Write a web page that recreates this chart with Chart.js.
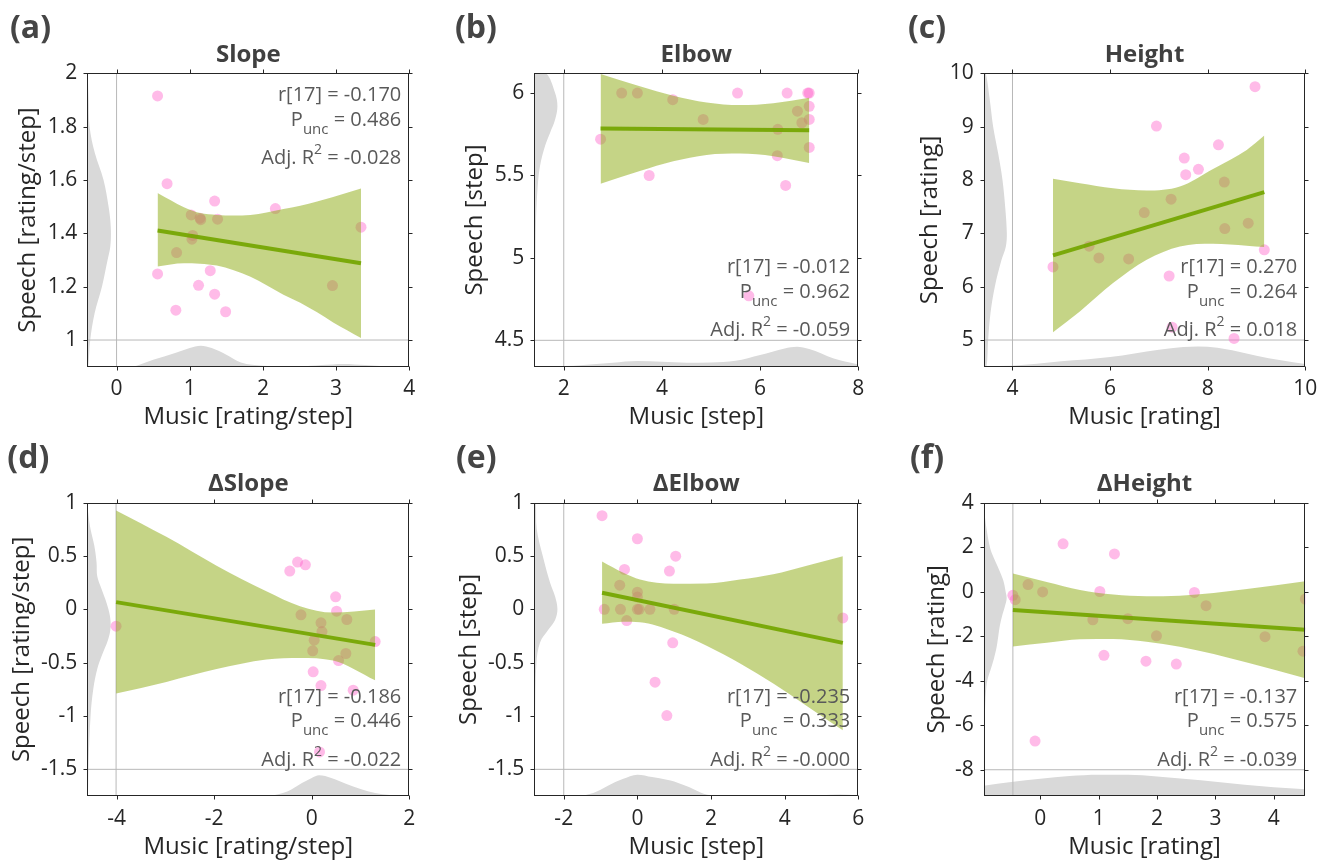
<!DOCTYPE html>
<html>
<head>
<meta charset="utf-8">
<title>Music vs speech</title>
<script src="https://cdn.jsdelivr.net/npm/chart.js@4.4.1/dist/chart.umd.min.js"></script>
<style>
  html, body { margin: 0; padding: 0; background: #fff; }
  #figure { position: relative; width: 1335px; height: 867px; }
  #figure canvas { position: absolute; left: 0; top: 0; }
</style>
</head>
<body>
<div id="figure"></div>
<script>
const W = 1335, H = 867;
const FONT = '"Open Sans", "Noto Sans", sans-serif';

// (a) Slope
const slopeMusic  = [0.56, 0.69, 1.34, 1.02, 1.14, 1.15, 1.38, 2.17, 1.04, 1.03, 0.82, 3.34, 0.56, 1.28, 1.12, 1.34, 0.81, 1.49, 2.95];
const slopeSpeech = [1.915, 1.586, 1.521, 1.469, 1.457, 1.451, 1.453, 1.493, 1.392, 1.378, 1.328, 1.423, 1.248, 1.260, 1.205, 1.172, 1.112, 1.106, 1.204];
const slopeFitX = [0.56, 3.34];
const slopeFitY = [1.411, 1.288];
const slopeBandX  = [0.56, 0.92, 1.14, 1.37, 1.60, 1.83, 2.05, 2.28, 2.51, 2.74, 2.96, 3.34];
const slopeBandHi = [1.551, 1.498, 1.476, 1.469, 1.467, 1.469, 1.478, 1.491, 1.503, 1.519, 1.536, 1.568];
const slopeBandLo = [1.276, 1.288, 1.286, 1.279, 1.262, 1.237, 1.205, 1.170, 1.140, 1.104, 1.066, 1.008];
const slopeSideAt = [2.0, 1.9, 1.8, 1.7, 1.6, 1.5, 1.45, 1.4, 1.35, 1.3, 1.2, 1.1, 1.0, 0.9];
const slopeSide   = [-0.396, -0.382, -0.369, -0.296, -0.178, -0.109, -0.086, -0.077, -0.086, -0.123, -0.200, -0.300, -0.360, -0.387];
const slopeFootAt = [-0.4, 0.2, 0.5, 0.8, 1.0, 1.15, 1.3, 1.5, 1.7, 2.0, 2.5, 2.8, 3.1, 3.4, 3.7, 4.0];
const slopeFoot   = [0.900, 0.901, 0.926, 0.951, 0.970, 0.979, 0.970, 0.945, 0.916, 0.904, 0.901, 0.906, 0.910, 0.906, 0.901, 0.900];
const slopeXRange = [-0.4, 4];
const slopeYRange = [0.9, 2];
const slopeRef = [0, 1];
const slopeXTicks = [0, 1, 2, 3, 4];
const slopeYTicks = [1, 1.2, 1.4, 1.6, 1.8, 2];
const slopeStats = ['-0.170', '0.486', '-0.028'];

// (b) Elbow
const elbowMusic  = [2.75, 3.18, 3.50, 4.22, 3.74, 4.84, 5.54, 6.55, 6.97, 7.00, 7.00, 6.76, 7.00, 6.85, 6.36, 7.00, 6.35, 6.52, 5.77];
const elbowSpeech = [5.72, 6.00, 6.00, 5.96, 5.50, 5.84, 6.00, 6.00, 6.00, 6.00, 5.92, 5.89, 5.84, 5.82, 5.78, 5.67, 5.62, 5.44, 4.77];
const elbowFitX = [2.75, 7.00];
const elbowFitY = [5.785, 5.775];
const elbowBandX  = [2.75, 3.55, 4.23, 4.91, 5.59, 6.27, 7.00];
const elbowBandHi = [6.116, 6.041, 5.984, 5.943, 5.927, 5.939, 5.972];
const elbowBandLo = [5.450, 5.527, 5.586, 5.625, 5.633, 5.617, 5.576];
const elbowSideAt = [6.12, 6.0, 5.92, 5.84, 5.76, 5.68, 5.56, 5.44, 5.25, 4.99, 4.75, 4.34];
const elbowSide   = [1.640, 1.824, 1.871, 1.824, 1.722, 1.620, 1.518, 1.471, 1.437, 1.423, 1.416, 1.409];
const elbowFootAt = [1.4, 2.2, 3.0, 3.5, 4.0, 4.5, 5.0, 5.5, 6.0, 6.5, 6.75, 7.0, 7.5, 8.0];
const elbowFoot   = [4.340, 4.346, 4.364, 4.374, 4.370, 4.364, 4.366, 4.376, 4.411, 4.451, 4.461, 4.447, 4.390, 4.354];
const elbowXRange = [1.4, 8];
const elbowYRange = [4.34, 6.12];
const elbowRef = [2, 4.5];
const elbowXTicks = [2, 4, 6, 8];
const elbowYTicks = [4.5, 5, 5.5, 6];
const elbowStats = ['-0.012', '0.962', '-0.059'];

// (c) Height
const heightMusic  = [8.97, 6.95, 8.22, 7.52, 7.55, 7.81, 8.34, 7.25, 6.70, 8.35, 8.83, 9.16, 5.57, 5.77, 6.38, 4.83, 7.21, 7.27, 8.54];
const heightSpeech = [9.75, 9.01, 8.66, 8.41, 8.10, 8.20, 7.96, 7.64, 7.39, 7.09, 7.19, 6.69, 6.76, 6.54, 6.52, 6.37, 6.20, 5.24, 5.03];
const heightFitX = [4.83, 9.16];
const heightFitY = [6.586, 7.771];
const heightBandX  = [4.83, 5.38, 6.06, 6.75, 7.43, 8.11, 8.80, 9.16];
const heightBandHi = [8.021, 7.940, 7.846, 7.803, 7.878, 8.208, 8.564, 8.833];
const heightBandLo = [5.144, 5.537, 6.067, 6.504, 6.754, 6.804, 6.767, 6.742];
const heightSideAt = [10, 9.5, 9, 8.5, 8, 7.5, 7, 6.75, 6.5, 6, 5.5, 5, 4.5];
const heightSide   = [3.453, 3.535, 3.604, 3.706, 3.795, 3.850, 3.884, 3.863, 3.774, 3.638, 3.549, 3.501, 3.467];
const heightFootAt = [3.41, 4, 5, 6, 7, 7.5, 7.8, 8.2, 8.5, 9, 9.5, 10];
const heightFoot   = [4.510, 4.519, 4.600, 4.682, 4.819, 4.869, 4.881, 4.856, 4.807, 4.707, 4.619, 4.550];
const heightXRange = [3.41, 10];
const heightYRange = [4.5, 10];
const heightRef = [4, 5];
const heightXTicks = [4, 6, 8, 10];
const heightYTicks = [5, 6, 7, 8, 9, 10];
const heightStats = ['0.270', '0.264', '0.018'];

// (d) ΔSlope
const dSlopeMusic  = [-4.01, -0.45, -0.29, -0.13, 0.49, 0.51, -0.22, 0.19, 0.72, 0.21, 0.05, 1.30, 0.02, 0.70, 0.55, 0.03, 0.19, 0.85, 0.16];
const dSlopeSpeech = [-0.158, 0.359, 0.443, 0.418, 0.118, -0.017, -0.051, -0.126, -0.095, -0.208, -0.289, -0.302, -0.389, -0.414, -0.480, -0.586, -0.715, -0.758, -1.337];
const dSlopeFitX = [-4.01, 1.30];
const dSlopeFitY = [0.068, -0.333];
const dSlopeBandX  = [-4.01, -2.98, -1.95, -0.93, -0.24, 0.44, 1.30];
const dSlopeBandHi = [0.928, 0.680, 0.410, 0.170, 0.030, -0.030, -0.001];
const dSlopeBandLo = [-0.790, -0.680, -0.560, -0.470, -0.455, -0.480, -0.665];
const dSlopeSideAt = [1, 0.9, 0.75, 0.6, 0.44, 0.31, 0.19, 0.06, -0.06, -0.17, -0.28, -0.44, -0.56, -0.75, -1.0, -1.44, -1.75];
const dSlopeSide   = [-4.600, -4.581, -4.533, -4.458, -4.410, -4.396, -4.308, -4.205, -4.137, -4.123, -4.171, -4.308, -4.396, -4.478, -4.533, -4.574, -4.588];
const dSlopeFootAt = [-4.6, -1.0, -0.87, -0.5, -0.2, 0, 0.15, 0.4, 0.7, 1.0, 1.3, 1.6, 2.0];
const dSlopeFoot   = [-1.750, -1.749, -1.747, -1.707, -1.628, -1.581, -1.556, -1.581, -1.635, -1.685, -1.722, -1.741, -1.748];
const dSlopeXRange = [-4.6, 2];
const dSlopeYRange = [-1.75, 1];
const dSlopeRef = [-4.01, -1.5];
const dSlopeXTicks = [-4, -2, 0, 2];
const dSlopeYTicks = [-1.5, -1, -0.5, 0, 0.5, 1];
const dSlopeStats = ['-0.186', '0.446', '-0.022'];

// (e) ΔElbow
const dElbowMusic  = [-0.96, 0.00, 1.04, -0.35, 0.87, -0.48, 0.00, 0.00, -0.90, -0.46, 0.00, 0.05, 0.34, 1.00, -0.29, 5.58, 0.96, 0.48, 0.80];
const dElbowSpeech = [0.878, 0.662, 0.499, 0.374, 0.359, 0.227, 0.161, 0.115, 0.000, 0.000, 0.000, 0.000, 0.000, 0.000, -0.105, -0.080, -0.314, -0.683, -0.996];
const dElbowFitX = [-0.96, 5.58];
const dElbowFitY = [0.155, -0.314];
const dElbowBandX  = [-0.96, -0.38, 0.07, 0.98, 1.88, 2.79, 3.69, 4.60, 5.58];
const dElbowBandHi = [0.449, 0.343, 0.280, 0.240, 0.243, 0.280, 0.330, 0.410, 0.499];
const dElbowBandLo = [-0.136, -0.117, -0.120, -0.208, -0.341, -0.508, -0.695, -0.905, -1.134];
const dElbowSideAt = [1, 0.75, 0.5, 0.25, 0.12, 0, -0.1, -0.19, -0.31, -0.5, -1.0, -1.44, -1.75];
const dElbowSide   = [-2.760, -2.733, -2.570, -2.371, -2.235, -2.172, -2.235, -2.416, -2.643, -2.742, -2.778, -2.787, -2.796];
const dElbowFootAt = [-2.8, -1.6, -1.2, -0.8, -0.4, 0, 0.4, 0.8, 1.0, 1.4, 1.8, 2.2, 3.0, 4.0, 5.0, 5.5, 6.0];
const dElbowFoot   = [-1.750, -1.747, -1.722, -1.653, -1.591, -1.550, -1.572, -1.597, -1.613, -1.666, -1.728, -1.747, -1.749, -1.749, -1.743, -1.736, -1.745];
const dElbowXRange = [-2.8, 6];
const dElbowYRange = [-1.75, 1];
const dElbowRef = [-2, -1.5];
const dElbowXTicks = [-2, 0, 2, 4, 6];
const dElbowYTicks = [-1.5, -1, -0.5, 0, 0.5, 1];
const dElbowStats = ['-0.235', '0.333', '-0.000'];

// (f) ΔHeight
const dHeightMusic  = [0.39, 1.27, -0.21, 0.04, 1.02, 2.64, -0.47, -0.43, 4.54, 2.84, 0.90, 1.50, 1.99, 3.85, 4.50, 1.09, 1.81, 2.33, -0.09];
const dHeightSpeech = [2.15, 1.70, 0.32, -0.01, 0.01, -0.03, -0.16, -0.36, -0.33, -0.63, -1.26, -1.21, -1.98, -2.02, -2.67, -2.86, -3.12, -3.25, -6.71];
const dHeightFitX = [-0.47, 4.54];
const dHeightFitY = [-0.821, -1.707];
const dHeightBandX  = [-0.47, 0.11, 0.68, 1.25, 1.82, 2.39, 2.97, 3.54, 4.54];
const dHeightBandHi = [0.816, 0.440, 0.080, -0.130, -0.205, -0.180, -0.055, 0.125, 0.470];
const dHeightBandLo = [-2.458, -2.290, -2.135, -2.122, -2.250, -2.475, -2.800, -3.185, -3.885];
const dHeightSideAt = [4, 3.5, 3, 2, 1.5, 1, 0.5, 0, -0.3, -0.65, -1, -1.5, -2, -2.5, -3, -3.5, -4, -4.5, -5, -6, -7, -8, -9.18];
const dHeightSide   = [-0.971, -0.954, -0.931, -0.863, -0.794, -0.709, -0.634, -0.594, -0.577, -0.606, -0.646, -0.691, -0.720, -0.749, -0.794, -0.851, -0.909, -0.931, -0.943, -0.954, -0.960, -0.966, -0.971];
const dHeightFootAt = [-0.97, -0.5, 0, 0.5, 1, 1.5, 2, 2.5, 3, 3.5, 4, 4.54];
const dHeightFoot   = [-8.72, -8.55, -8.40, -8.28, -8.22, -8.23, -8.30, -8.42, -8.54, -8.68, -8.79, -8.88];
const dHeightXRange = [-0.97, 4.54];
const dHeightYRange = [-9.18, 4];
const dHeightRef = [-0.47, -8];
const dHeightXTicks = [0, 1, 2, 3, 4];
const dHeightYTicks = [-8, -6, -4, -2, 0, 2, 4];
const dHeightStats = ['-0.137', '0.575', '-0.039'];

// panel layout: box = [left, top, right, bottom] of the plot frame in page pixels
const panels = [
  { tag: '(a)', title: 'Slope', xLabel: 'Music [rating/step]', yLabel: 'Speech [rating/step]',
    music: slopeMusic, speech: slopeSpeech, fitX: slopeFitX, fitY: slopeFitY,
    bandX: slopeBandX, bandHi: slopeBandHi, bandLo: slopeBandLo,
    sideAt: slopeSideAt, side: slopeSide, footAt: slopeFootAt, foot: slopeFoot,
    xRange: slopeXRange, yRange: slopeYRange, ref: slopeRef, xTicks: slopeXTicks, yTicks: slopeYTicks, stats: slopeStats,
    box: [87.3, 73.3, 409.3, 366.7], yTitleX: 28.0, xTitleY: 417.4, tagX: 10, tagY: 37.5, statsTop: true },
  { tag: '(b)', title: 'Elbow', xLabel: 'Music [step]', yLabel: 'Speech [step]',
    music: elbowMusic, speech: elbowSpeech, fitX: elbowFitX, fitY: elbowFitY,
    bandX: elbowBandX, bandHi: elbowBandHi, bandLo: elbowBandLo,
    sideAt: elbowSideAt, side: elbowSide, footAt: elbowFootAt, foot: elbowFoot,
    xRange: elbowXRange, yRange: elbowYRange, ref: elbowRef, xTicks: elbowXTicks, yTicks: elbowYTicks, stats: elbowStats,
    box: [534.3, 73.3, 858.3, 366.7], yTitleX: 475.0, xTitleY: 417.4, tagX: 455, tagY: 37.5, statsTop: false },
  { tag: '(c)', title: 'Height', xLabel: 'Music [rating]', yLabel: 'Speech [rating]',
    music: heightMusic, speech: heightSpeech, fitX: heightFitX, fitY: heightFitY,
    bandX: heightBandX, bandHi: heightBandHi, bandLo: heightBandLo,
    sideAt: heightSideAt, side: heightSide, footAt: heightFootAt, foot: heightFoot,
    xRange: heightXRange, yRange: heightYRange, ref: heightRef, xTicks: heightXTicks, yTicks: heightYTicks, stats: heightStats,
    box: [983.7, 73.3, 1305.3, 366.7], yTitleX: 930.0, xTitleY: 417.4, tagX: 908, tagY: 37.5, statsTop: false },
  { tag: '(d)', title: 'ΔSlope', xLabel: 'Music [rating/step]', yLabel: 'Speech [rating/step]',
    music: dSlopeMusic, speech: dSlopeSpeech, fitX: dSlopeFitX, fitY: dSlopeFitY,
    bandX: dSlopeBandX, bandHi: dSlopeBandHi, bandLo: dSlopeBandLo,
    sideAt: dSlopeSideAt, side: dSlopeSide, footAt: dSlopeFootAt, foot: dSlopeFoot,
    xRange: dSlopeXRange, yRange: dSlopeYRange, ref: dSlopeRef, xTicks: dSlopeXTicks, yTicks: dSlopeYTicks, stats: dSlopeStats,
    box: [87.3, 502.7, 409.3, 796], yTitleX: 22.4, xTitleY: 847.4, tagX: 7.3, tagY: 467.5, statsTop: false },
  { tag: '(e)', title: 'ΔElbow', xLabel: 'Music [step]', yLabel: 'Speech [step]',
    music: dElbowMusic, speech: dElbowSpeech, fitX: dElbowFitX, fitY: dElbowFitY,
    bandX: dElbowBandX, bandHi: dElbowBandHi, bandLo: dElbowBandLo,
    sideAt: dElbowSideAt, side: dElbowSide, footAt: dElbowFootAt, foot: dElbowFoot,
    xRange: dElbowXRange, yRange: dElbowYRange, ref: dElbowRef, xTicks: dElbowXTicks, yTicks: dElbowYTicks, stats: dElbowStats,
    box: [534.3, 502.7, 858.3, 796], yTitleX: 469.0, xTitleY: 847.4, tagX: 456, tagY: 467.5, statsTop: false },
  { tag: '(f)', title: 'ΔHeight', xLabel: 'Music [rating]', yLabel: 'Speech [rating]',
    music: dHeightMusic, speech: dHeightSpeech, fitX: dHeightFitX, fitY: dHeightFitY,
    bandX: dHeightBandX, bandHi: dHeightBandHi, bandLo: dHeightBandLo,
    sideAt: dHeightSideAt, side: dHeightSide, footAt: dHeightFootAt, foot: dHeightFoot,
    xRange: dHeightXRange, yRange: dHeightYRange, ref: dHeightRef, xTicks: dHeightXTicks, yTicks: dHeightYTicks, stats: dHeightStats,
    box: [983.7, 502.7, 1305.3, 796], yTitleX: 936.7, xTitleY: 847.4, tagX: 910, tagY: 467.5, statsTop: false },
];

const POINT_COLOR = 'rgba(255, 105, 205, 0.45)';
const BAND_COLOR = 'rgba(139, 169, 13, 0.5)';
const FIT_COLOR = 'rgba(116, 166, 0, 0.92)';
const KDE_COLOR = '#d9d9d9';
const REF_COLOR = '#b8b8b8';
const AXIS_COLOR = '#262626';
const TITLE_SIZE = 24;
const TITLE_LH = TITLE_SIZE * 1.2 / 2;

function pts(xs, ys) {
  return xs.map((x, i) => ({ x, y: ys[i] }));
}

// stats block: r, P_unc, adjusted R^2 with sub/superscripts
function drawStats(ctx, a, p) {
  const right = a.right - 8;
  const first = p.statsTop ? a.top + 27.7 : a.bottom - 93.4;
  const fonts = [`20px ${FONT}`, `15px ${FONT}`, `14px ${FONT}`];
  const shift = [0, 8, -10];
  const lines = [
    [['r[17] = ' + p.stats[0], 0]],
    [['P', 0], ['unc', 1], [' = ' + p.stats[1], 0]],
    [['Adj. R', 0], ['2', 2], [' = ' + p.stats[2], 0]],
  ];
  const steps = [0, 24.5, 63];
  ctx.fillStyle = '#595959';
  ctx.textAlign = 'left';
  ctx.textBaseline = 'alphabetic';
  lines.forEach((parts, i) => {
    let width = 0;
    parts.forEach(([t, k]) => { ctx.font = fonts[k]; width += ctx.measureText(t).width; });
    let cx = right - width;
    parts.forEach(([t, k]) => {
      ctx.font = fonts[k];
      ctx.fillText(t, cx, first + steps[i] + shift[k]);
      cx += ctx.measureText(t).width;
    });
  });
}

function framePlugin(p) {
  return {
    id: 'frame',
    afterDraw(chart) {
      const { ctx, chartArea: a, scales: { x, y } } = chart;
      const L = Math.round(a.left) + 0.5, R = Math.round(a.right) - 0.5;
      const T = Math.round(a.top) + 0.5, B = Math.round(a.bottom) - 0.5;
      ctx.save();
      ctx.strokeStyle = AXIS_COLOR;
      ctx.lineWidth = 1;
      ctx.strokeRect(L, T, R - L, B - T);
      ctx.beginPath();
      x.ticks.forEach(t => {
        const px = Math.round(x.getPixelForValue(t.value)) + 0.5;
        ctx.moveTo(px, B); ctx.lineTo(px, B + 4);
        ctx.moveTo(px, T); ctx.lineTo(px, T - 4);
      });
      y.ticks.forEach(t => {
        const py = Math.round(y.getPixelForValue(t.value)) + 0.5;
        ctx.moveTo(L, py); ctx.lineTo(L - 4, py);
        ctx.moveTo(R, py); ctx.lineTo(R + 4, py);
      });
      ctx.stroke();

      ctx.fillStyle = '#404040';
      ctx.font = `bold 24px ${FONT}`;
      ctx.textAlign = 'center';
      ctx.textBaseline = 'alphabetic';
      ctx.fillText(p.title, (a.left + a.right) / 2, a.top - 11.6);

      ctx.fillStyle = '#454545';
      ctx.font = `bold 32px ${FONT}`;
      ctx.textAlign = 'left';
      ctx.fillText(p.tag, p.tagX, p.tagY);

      drawStats(ctx, a, p);
      ctx.restore();
    }
  };
}

function axisOptions(p, horizontal) {
  const range = horizontal ? p.xRange : p.yRange;
  const ticks = horizontal ? p.xTicks : p.yTicks;
  return {
    type: 'linear',
    position: horizontal ? 'bottom' : 'left',
    min: range[0],
    max: range[1],
    afterBuildTicks: s => { s.ticks = ticks.map(v => ({ value: v })); },
    afterFit: s => {
      if (horizontal) s.height = p.xTitleY + TITLE_LH - p.box[3];
      else s.width = p.box[0] - (p.yTitleX - TITLE_LH);
    },
    grid: { display: false, drawTicks: false },
    border: { display: false },
    ticks: {
      autoSkip: false,
      maxRotation: 0,
      minRotation: 0,
      padding: horizontal ? 10.2 : 10,
      color: AXIS_COLOR,
      font: { family: FONT, size: 21 },
      callback: v => String(v)
    },
    title: {
      display: true,
      text: horizontal ? p.xLabel : p.yLabel,
      color: AXIS_COLOR,
      font: { family: FONT, size: TITLE_SIZE },
      padding: 0
    }
  };
}

function buildDatasets(p) {
  const [x0, x1] = p.xRange, [y0, y1] = p.yRange;
  const sideTop = p.sideAt[0], sideBottom = p.sideAt[p.sideAt.length - 1];
  return [
    { // fitted line
      data: pts(p.fitX, p.fitY), showLine: true, borderColor: FIT_COLOR, borderWidth: 4,
      pointRadius: 0, order: 1
    },
    { // confidence band, upper edge filled down to the lower edge
      data: pts(p.bandX, p.bandHi), showLine: true, fill: '+1', backgroundColor: BAND_COLOR,
      borderColor: 'transparent', borderWidth: 0, pointRadius: 0, cubicInterpolationMode: 'monotone', order: 2
    },
    {
      data: pts(p.bandX, p.bandLo), showLine: true, fill: false,
      borderColor: 'transparent', borderWidth: 0, pointRadius: 0, cubicInterpolationMode: 'monotone', order: 2
    },
    { // participants
      data: pts(p.music, p.speech), pointRadius: 5.5, pointBackgroundColor: POINT_COLOR,
      pointBorderColor: 'transparent', pointBorderWidth: 0, order: 3
    },
    { // reference lines at the data minima
      data: [{ x: p.ref[0], y: y0 }, { x: p.ref[0], y: y1 }], showLine: true,
      borderColor: REF_COLOR, borderWidth: 1, pointRadius: 0, order: 4
    },
    {
      data: [{ x: x0, y: p.ref[1] }, { x: x1, y: p.ref[1] }], showLine: true,
      borderColor: REF_COLOR, borderWidth: 1, pointRadius: 0, order: 4
    },
    { // speech density along the left edge
      data: [{ x: x0, y: sideTop }, ...pts(p.side, p.sideAt), { x: x0, y: sideBottom }],
      showLine: true, fill: 'shape', backgroundColor: KDE_COLOR, borderColor: 'transparent',
      borderWidth: 0, pointRadius: 0, tension: 0.35, order: 5
    },
    { // music density along the bottom edge
      data: pts(p.footAt, p.foot), showLine: true, fill: 'start', backgroundColor: KDE_COLOR,
      borderColor: 'transparent', borderWidth: 0, pointRadius: 0, cubicInterpolationMode: 'monotone', order: 5
    }
  ];
}

Chart.defaults.font.family = FONT;
const figure = document.getElementById('figure');

panels.forEach(p => {
  const canvas = document.createElement('canvas');
  canvas.width = W;
  canvas.height = H;
  canvas.style.width = W + 'px';
  canvas.style.height = H + 'px';
  figure.appendChild(canvas);

  new Chart(canvas, {
    type: 'scatter',
    data: { datasets: buildDatasets(p) },
    options: {
      responsive: false,
      animation: false,
      devicePixelRatio: 1,
      events: [],
      layout: {
        padding: {
          left: p.yTitleX - TITLE_LH,
          top: p.box[1],
          right: W - p.box[2],
          bottom: H - (p.xTitleY + TITLE_LH)
        }
      },
      plugins: { legend: { display: false }, tooltip: { enabled: false } },
      scales: { x: axisOptions(p, true), y: axisOptions(p, false) }
    },
    plugins: [framePlugin(p)]
  });
});
</script>
</body>
</html>
